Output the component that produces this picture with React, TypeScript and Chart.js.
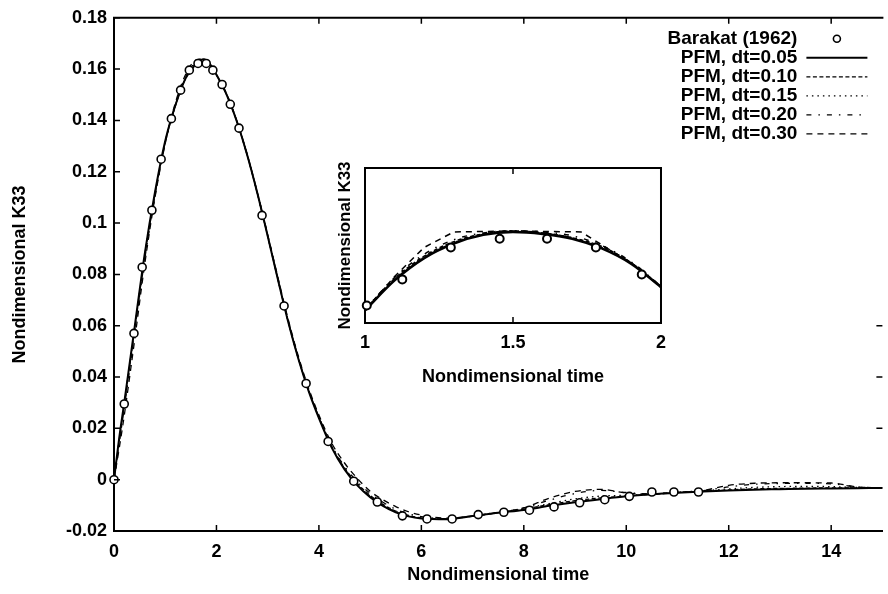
import React, { useEffect, useRef } from "react";
import { Chart, registerables } from "chart.js";

Chart.register(...registerables);

const FONT = "'Liberation Sans', Arial, Helvetica, sans-serif";

// ---------- Main chart axes ----------
const xTickValues = [0, 2, 4, 6, 8, 10, 12, 14];
const xTickLabels = ["0", "2", "4", "6", "8", "10", "12", "14"];
const yTickValues = [-0.02, 0, 0.02, 0.04, 0.06, 0.08, 0.1, 0.12, 0.14, 0.16, 0.18];
const yTickLabels = ["-0.02", "0", "0.02", "0.04", "0.06", "0.08", "0.1", "0.12", "0.14", "0.16", "0.18"];
const rightTickValues = [0.02, 0.04, 0.06];

const seriesLabels = [
  "Barakat (1962)",
  "PFM, dt=0.05",
  "PFM, dt=0.10",
  "PFM, dt=0.15",
  "PFM, dt=0.20",
  "PFM, dt=0.30",
];

// ---------- Main chart data ----------
const barakatTime = [0, 0.2, 0.39, 0.55, 0.74, 0.92, 1.12, 1.3, 1.47, 1.64, 1.8, 1.93, 2.11, 2.27, 2.44, 2.89, 3.32, 3.75, 4.18, 4.68, 5.14, 5.63, 6.11, 6.6, 7.11, 7.61, 8.11, 8.59, 9.09, 9.58, 10.06, 10.5, 10.93, 11.41];
const barakatK33 = [0, 0.0295, 0.057, 0.0828, 0.105, 0.1249, 0.1407, 0.1518, 0.1596, 0.1622, 0.1622, 0.1596, 0.154, 0.1463, 0.137, 0.103, 0.0677, 0.0375, 0.0149, -0.0006, -0.0087, -0.0141, -0.0153, -0.0153, -0.0136, -0.0127, -0.0119, -0.0106, -0.009, -0.0078, -0.0065, -0.0048, -0.0048, -0.0048];

const pfmTime = [0, 0.1, 0.2, 0.4, 0.6, 0.8, 1.0, 1.2, 1.4, 1.6, 1.76, 1.9, 2.0, 2.2, 2.4, 2.6, 2.8, 3.0, 3.2, 3.4, 3.6, 3.8, 4.0, 4.25, 4.5, 4.75, 5.0, 5.25, 5.5, 5.75, 6.0, 6.5, 7.0, 7.5, 8.0, 8.5, 9.0, 9.5, 10.0, 10.5, 11.0, 11.5, 12.0, 12.5, 13.0, 13.5, 14.0, 14.5, 15.0];
const pfm005 = [0, 0.016, 0.03, 0.059, 0.088, 0.112, 0.132, 0.146, 0.1565, 0.162, 0.1638, 0.1612, 0.1578, 0.15, 0.1395, 0.1265, 0.1115, 0.095, 0.078, 0.0615, 0.047, 0.0345, 0.024, 0.0125, 0.004, -0.0022, -0.0068, -0.0102, -0.0127, -0.0143, -0.0151, -0.0154, -0.0142, -0.0129, -0.0118, -0.0102, -0.0088, -0.0076, -0.0065, -0.0057, -0.0051, -0.0046, -0.0042, -0.0039, -0.0037, -0.0035, -0.0034, -0.0033, -0.0032];
const pfm010 = [0, 0.015, 0.029, 0.058, 0.087, 0.111, 0.1315, 0.1458, 0.1565, 0.1622, 0.1638, 0.1612, 0.1578, 0.15, 0.1395, 0.1265, 0.1115, 0.095, 0.078, 0.0617, 0.0472, 0.0348, 0.0243, 0.013, 0.0046, -0.0015, -0.0061, -0.0096, -0.0122, -0.0139, -0.0149, -0.0153, -0.0142, -0.0128, -0.0115, -0.0097, -0.0082, -0.0071, -0.0064, -0.0057, -0.005, -0.0045, -0.004, -0.0036, -0.0034, -0.0033, -0.0032, -0.0032, -0.0032];
const pfm015 = [0, 0.015, 0.0295, 0.0585, 0.0875, 0.1115, 0.1318, 0.146, 0.1566, 0.1621, 0.1638, 0.1612, 0.1578, 0.15, 0.1395, 0.1265, 0.1115, 0.095, 0.0781, 0.0616, 0.0471, 0.0347, 0.0242, 0.0128, 0.0043, -0.0018, -0.0064, -0.0099, -0.0124, -0.0141, -0.015, -0.0153, -0.0141, -0.0127, -0.0113, -0.0093, -0.0075, -0.0064, -0.0061, -0.0056, -0.0049, -0.0043, -0.0036, -0.003, -0.0027, -0.0026, -0.0027, -0.003, -0.0032];
const pfm020 = [0, 0.014, 0.028, 0.057, 0.086, 0.1105, 0.1312, 0.146, 0.157, 0.1628, 0.1638, 0.1612, 0.1578, 0.15, 0.1395, 0.1265, 0.1116, 0.0951, 0.0783, 0.0619, 0.0474, 0.035, 0.0245, 0.0133, 0.0052, -0.0008, -0.0053, -0.0088, -0.0115, -0.0133, -0.0144, -0.0152, -0.0142, -0.0128, -0.011, -0.008, -0.0054, -0.0042, -0.005, -0.0056, -0.005, -0.0043, -0.0028, -0.0018, -0.0015, -0.0014, -0.0016, -0.0028, -0.0032];
const pfm030 = [0, 0.012, 0.025, 0.054, 0.084, 0.11, 0.131, 0.147, 0.158, 0.1635, 0.164, 0.1612, 0.1578, 0.1502, 0.1397, 0.1268, 0.1118, 0.0955, 0.0788, 0.0625, 0.048, 0.0356, 0.0252, 0.0142, 0.0065, 0.0005, -0.0045, -0.0078, -0.0105, -0.0125, -0.0138, -0.015, -0.0142, -0.0128, -0.011, -0.0072, -0.0046, -0.0038, -0.0052, -0.0056, -0.005, -0.0042, -0.0022, -0.0014, -0.0012, -0.0012, -0.0013, -0.0028, -0.0032];

// ---------- Inset data ----------
const insetXTickValues = [1, 1.5, 2];
const insetXTickLabels = ["1", "1.5", "2"];
const insetBarakatTime = [1.006, 1.126, 1.29, 1.455, 1.615, 1.78, 1.935];
const insetBarakatK33 = [0.1518, 0.1545, 0.1578, 0.1587, 0.1587, 0.1578, 0.155];
const insetTime = [1.0, 1.1, 1.2, 1.3, 1.4, 1.5, 1.6, 1.7, 1.8, 1.9, 2.0];
const insetPfm005 = [0.1513, 0.1544, 0.1567, 0.1582, 0.1591, 0.1594, 0.1592, 0.1587, 0.1577, 0.1561, 0.1537];
const insetPfm010 = [0.1514, 0.1546, 0.1569, 0.1584, 0.1592, 0.1595, 0.1593, 0.1588, 0.1579, 0.1562, 0.1538];
const insetPfm015 = [0.1513, 0.1545, 0.1568, 0.1583, 0.1592, 0.1595, 0.1593, 0.1588, 0.1578, 0.1562, 0.1537];
const insetPfm020 = [0.1514, 0.1547, 0.1571, 0.1586, 0.1593, 0.1595, 0.1594, 0.159, 0.158, 0.1563, 0.1538];
const insetPfm030Time = [1.0, 1.1, 1.2, 1.3, 1.5, 1.73, 1.83, 1.9, 2.0];
const insetPfm030 = [0.1513, 0.1548, 0.1578, 0.1594, 0.1595, 0.1594, 0.1575, 0.1562, 0.1537];

const xy = (xs: number[], ys: number[]) => xs.map((x, i) => ({ x, y: ys[i] }));

const framePlugin = {
  id: "frame",
  afterDatasetsDraw(chart: any, _args: any, opts: any) {
    const { ctx, chartArea: a, scales } = chart;
    const xs = scales.x;
    const ys = scales.y;
    ctx.save();
    ctx.strokeStyle = "#000";
    ctx.setLineDash([]);
    ctx.lineWidth = opts.lineWidth ?? 2;
    ctx.beginPath();
    if (opts.top) {
      ctx.moveTo(a.left - 1, a.top);
      ctx.lineTo(a.right + 1, a.top);
    }
    if (opts.right) {
      ctx.moveTo(a.right, a.top - 1);
      ctx.lineTo(a.right, a.bottom + 1);
    }
    ctx.stroke();
    ctx.lineWidth = opts.tickWidth ?? 1.5;
    const L = opts.tickLen ?? 6;
    ctx.beginPath();
    if (opts.xTicks) {
      for (const t of xs.ticks) {
        const p = xs.getPixelForValue(t.value);
        ctx.moveTo(p, a.bottom);
        ctx.lineTo(p, a.bottom - L);
        if (opts.top) {
          ctx.moveTo(p, a.top);
          ctx.lineTo(p, a.top + L);
        }
      }
    }
    if (opts.yTicks) {
      for (const t of ys.ticks) {
        const p = ys.getPixelForValue(t.value);
        ctx.moveTo(a.left, p);
        ctx.lineTo(a.left + L, p);
      }
    }
    if (opts.rightTicks) {
      for (const v of opts.rightTicks) {
        const p = ys.getPixelForValue(v);
        ctx.moveTo(a.right, p);
        ctx.lineTo(a.right - L, p);
      }
    }
    ctx.stroke();
    ctx.restore();
  },
};

const legendPlugin = {
  id: "sideLegend",
  afterDatasetsDraw(chart: any, _args: any, opts: any) {
    if (!opts || !opts.show) return;
    const { ctx, chartArea: a } = chart;
    ctx.save();
    ctx.font = `bold ${opts.fontSize}px ${FONT}`;
    ctx.fillStyle = "#000";
    ctx.strokeStyle = "#000";
    ctx.textAlign = "right";
    ctx.textBaseline = "middle";
    const textRight = a.right - opts.textFromRight;
    const x0 = a.right - opts.lineFromRight0;
    const x1 = a.right - opts.lineFromRight1;
    chart.data.datasets.forEach((ds: any, i: number) => {
      const y = a.top + opts.firstRow + i * opts.rowH;
      ctx.fillText(ds.label, textRight, y);
      if (ds.showLine === false) {
        ctx.setLineDash([]);
        ctx.lineWidth = 1.6;
        ctx.fillStyle = "#fff";
        ctx.beginPath();
        ctx.arc((x0 + x1) / 2, y, 3.5, 0, Math.PI * 2);
        ctx.fill();
        ctx.stroke();
        ctx.fillStyle = "#000";
      } else {
        ctx.setLineDash(ds.borderDash || []);
        ctx.lineWidth = ds.borderWidth;
        ctx.beginPath();
        ctx.moveTo(x0, y);
        ctx.lineTo(x1, y);
        ctx.stroke();
      }
    });
    ctx.restore();
  },
};

const dashes = [[], [4, 2.5], [1.5, 4], [5, 7, 1.5, 7], [6, 5]];

function lineDs(label: string, data: any[], dash: number[], width: number) {
  return {
    label,
    data,
    showLine: true,
    borderColor: "#000",
    borderWidth: width,
    borderDash: dash,
    pointRadius: 0,
    cubicInterpolationMode: "monotone",
    clip: false,
  };
}

function pointDs(label: string, data: any[], r: number, bw: number) {
  return {
    label,
    data,
    showLine: false,
    pointRadius: r,
    pointBorderWidth: bw,
    pointBackgroundColor: "#fff",
    pointBorderColor: "#000",
    clip: false,
  };
}

export default function App() {
  const mainRef = useRef<HTMLCanvasElement>(null);
  const insetRef = useRef<HTMLCanvasElement>(null);

  useEffect(() => {
    const tickFont = { family: FONT, size: 18, weight: "bold" as const };
    const titleFont = { family: FONT, size: 18, weight: "bold" as const };
    const main = new Chart(mainRef.current as HTMLCanvasElement, {
      type: "scatter",
      data: {
        datasets: [
          pointDs(seriesLabels[0], xy(barakatTime, barakatK33), 4, 1.6),
          lineDs(seriesLabels[1], xy(pfmTime, pfm005), dashes[0], 2),
          lineDs(seriesLabels[2], xy(pfmTime, pfm010), dashes[1], 1.3),
          lineDs(seriesLabels[3], xy(pfmTime, pfm015), dashes[2], 1.3),
          lineDs(seriesLabels[4], xy(pfmTime, pfm020), dashes[3], 1.3),
          lineDs(seriesLabels[5], xy(pfmTime, pfm030), dashes[4], 1.3),
        ] as any,
      },
      options: {
        responsive: false,
        animation: false,
        devicePixelRatio: 1,
        events: [],
        layout: { padding: { top: 17, right: 0, left: 0, bottom: 0 } },
        plugins: {
          legend: { display: false },
          tooltip: { enabled: false },
          frame: { top: true, right: false, xTicks: true, yTicks: true, rightTicks: rightTickValues, tickLen: 6, lineWidth: 2 },
          sideLegend: { show: true, fontSize: 19, textFromRight: 85, lineFromRight0: 76, lineFromRight1: 15, firstRow: 21, rowH: 19 },
        } as any,
        scales: {
          x: {
            type: "linear",
            min: 0,
            max: 15,
            afterBuildTicks: (s: any) => {
              s.ticks = xTickValues.map((value) => ({ value }));
            },
            afterFit: (s: any) => {
              s.height = 63;
            },
            grid: { display: false, drawTicks: false },
            border: { display: true, color: "#000", width: 2 },
            ticks: {
              autoSkip: false,
              maxRotation: 0,
              padding: 10,
              color: "#000",
              font: tickFont,
              callback: (_v: any, i: number) => xTickLabels[i],
            },
            title: {
              display: true,
              text: "Nondimensional time",
              color: "#000",
              font: titleFont,
              padding: { top: 0, bottom: 8 },
            },
          },
          y: {
            type: "linear",
            min: -0.02,
            max: 0.18,
            afterBuildTicks: (s: any) => {
              s.ticks = yTickValues.map((value) => ({ value }));
            },
            afterFit: (s: any) => {
              s.width = 114;
            },
            grid: { display: false, drawTicks: false },
            border: { display: true, color: "#000", width: 2 },
            ticks: {
              autoSkip: false,
              padding: 7,
              color: "#000",
              font: tickFont,
              callback: (_v: any, i: number) => yTickLabels[i],
            },
            title: {
              display: true,
              text: "Nondimensional K33",
              color: "#000",
              font: titleFont,
              padding: { top: 9, bottom: 0 },
            },
          },
        },
      } as any,
      plugins: [framePlugin, legendPlugin] as any,
    });

    const inset = new Chart(insetRef.current as HTMLCanvasElement, {
      type: "scatter",
      data: {
        datasets: [
          pointDs(seriesLabels[0], xy(insetBarakatTime, insetBarakatK33), 4, 2),
          lineDs(seriesLabels[1], xy(insetTime, insetPfm005), dashes[0], 2.6),
          lineDs(seriesLabels[2], xy(insetTime, insetPfm010), dashes[1], 1.5),
          lineDs(seriesLabels[3], xy(insetTime, insetPfm015), dashes[2], 1.5),
          lineDs(seriesLabels[4], xy(insetTime, insetPfm020), dashes[3], 1.5),
          { ...lineDs(seriesLabels[5], xy(insetPfm030Time, insetPfm030), dashes[4], 1.5), cubicInterpolationMode: "default", tension: 0 },
        ] as any,
      },
      options: {
        responsive: false,
        animation: false,
        devicePixelRatio: 1,
        events: [],
        layout: { padding: { top: 18, right: 12, left: 0, bottom: 0 } },
        plugins: {
          legend: { display: false },
          tooltip: { enabled: false },
          frame: { top: true, right: true, xTicks: true, yTicks: false, tickLen: 6, lineWidth: 2 },
        } as any,
        scales: {
          x: {
            type: "linear",
            min: 1,
            max: 2,
            afterBuildTicks: (s: any) => {
              s.ticks = insetXTickValues.map((value) => ({ value }));
            },
            afterFit: (s: any) => {
              s.height = 67;
            },
            grid: { display: false, drawTicks: false },
            border: { display: true, color: "#000", width: 2 },
            ticks: {
              autoSkip: false,
              maxRotation: 0,
              padding: 9,
              color: "#000",
              font: tickFont,
              callback: (_v: any, i: number) => insetXTickLabels[i],
            },
            title: {
              display: true,
              text: "Nondimensional time",
              color: "#000",
              font: titleFont,
              padding: { top: 0, bottom: 2 },
            },
          },
          y: {
            type: "linear",
            min: 0.15,
            max: 0.166,
            afterFit: (s: any) => {
              s.width = 35;
            },
            grid: { display: false, drawTicks: false },
            border: { display: true, color: "#000", width: 2 },
            ticks: { display: false },
            title: {
              display: true,
              text: "Nondimensional K33",
              color: "#000",
              font: { family: FONT, size: 17, weight: "bold" },
              padding: { top: 5, bottom: 0 },
            },
          },
        },
      } as any,
      plugins: [framePlugin] as any,
    });

    return () => {
      main.destroy();
      inset.destroy();
    };
  }, []);

  return (
    <div style={{ position: "absolute", left: 0, top: 0, width: 888, height: 594, background: "#fff", overflow: "hidden" }}>
      <canvas ref={mainRef} width={888} height={594} style={{ position: "absolute", left: 0, top: 0, width: 888, height: 594 }} />
      <canvas ref={insetRef} width={345} height={240} style={{ position: "absolute", left: 330, top: 150, width: 345, height: 240 }} />
    </div>
  );
}
